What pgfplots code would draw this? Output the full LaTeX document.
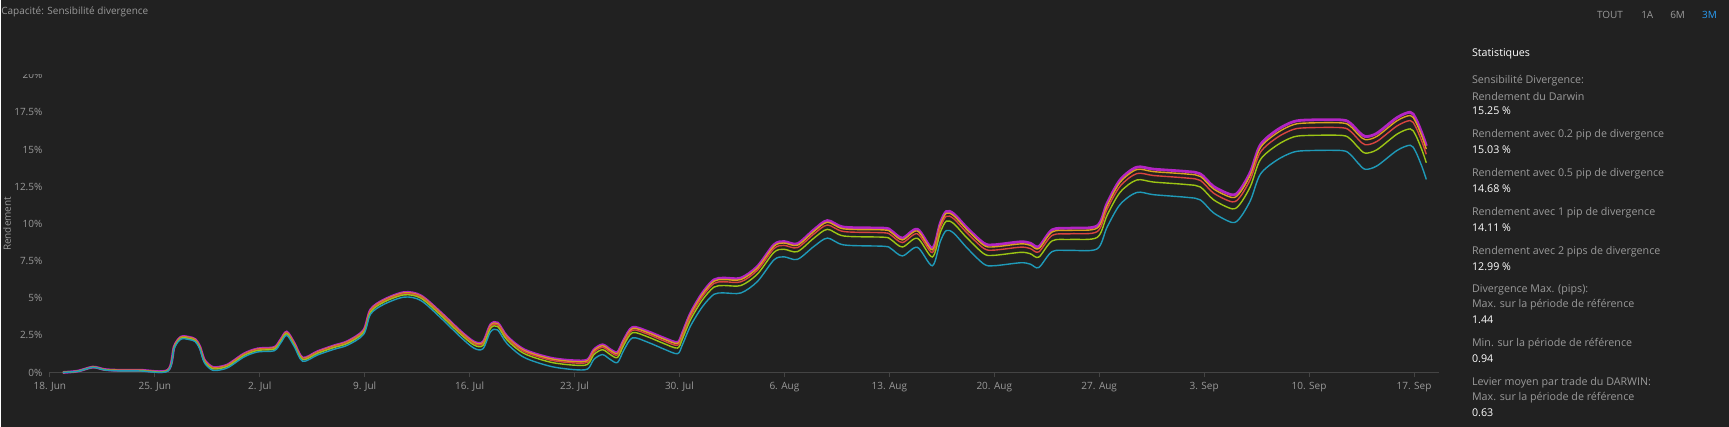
\documentclass[border=0pt]{standalone}
\usepackage{fontspec}
\setmainfont{Open Sans}
\usepackage{pgfplots}
\usepackage{pgfplotstable}
\pgfplotsset{compat=1.18}

\definecolor{bg}{HTML}{212121}
\definecolor{txt}{HTML}{9A9A9A}
\definecolor{axl}{HTML}{444444}
\definecolor{cdarwin}{HTML}{B324C4}
\definecolor{cpip02}{HTML}{D9A21F}
\definecolor{cpip05}{HTML}{D9443F}
\definecolor{cpip1}{HTML}{9CC414}
\definecolor{cpip2}{HTML}{1F9AB8}
\definecolor{blueact}{HTML}{2A9DF4}

% day  darwin  0.2pip  0.5pip  1pip  2pips
\pgfplotstableread{
d M O R G C
0.87 0.00 0.00 0.00 0.00 0.00
1.87 0.09 0.09 0.09 0.08 0.08
2.87 0.36 0.36 0.35 0.35 0.34
3.64 0.20 0.20 0.19 0.18 0.17
4.5 0.15 0.15 0.14 0.13 0.11
6.0 0.15 0.15 0.14 0.12 0.10
7.87 0.15 0.14 0.13 0.12 0.09
8.3 1.75 1.74 1.72 1.69 1.63
8.75 2.38 2.37 2.34 2.31 2.24
9.3 2.36 2.35 2.32 2.28 2.21
9.7 2.22 2.21 2.18 2.14 2.07
10.0 1.75 1.73 1.71 1.67 1.59
10.3 0.85 0.83 0.80 0.76 0.67
10.75 0.40 0.38 0.35 0.30 0.20
11.1 0.33 0.31 0.28 0.23 0.13
11.87 0.52 0.50 0.47 0.42 0.32
12.97 1.26 1.24 1.21 1.15 1.05
13.87 1.59 1.57 1.54 1.48 1.38
14.97 1.68 1.66 1.62 1.57 1.46
15.4 2.20 2.18 2.14 2.09 1.98
15.8 2.72 2.70 2.66 2.61 2.50
16.3 1.97 1.95 1.91 1.86 1.75
16.87 0.97 0.95 0.91 0.86 0.75
17.87 1.41 1.39 1.35 1.29 1.18
18.97 1.80 1.78 1.74 1.68 1.56
19.87 2.09 2.07 2.03 1.96 1.84
20.93 2.83 2.80 2.76 2.69 2.56
21.4 4.22 4.19 4.15 4.07 3.93
22.3 4.89 4.86 4.81 4.74 4.59
23.64 5.38 5.35 5.30 5.22 5.07
24.75 5.16 5.13 5.08 5.00 4.84
26.1 4.00 3.97 3.91 3.82 3.65
27.4 2.76 2.72 2.66 2.57 2.38
28.3 2.05 2.01 1.94 1.84 1.63
28.9 2.05 2.01 1.94 1.82 1.60
29.4 3.20 3.16 3.08 2.97 2.74
29.87 3.33 3.28 3.21 3.09 2.86
30.5 2.42 2.37 2.30 2.18 1.94
31.64 1.53 1.48 1.40 1.27 1.01
33.4 0.97 0.92 0.83 0.69 0.41
34.97 0.79 0.73 0.64 0.49 0.19
35.87 0.85 0.79 0.69 0.54 0.23
36.3 1.53 1.47 1.37 1.21 0.89
36.87 1.86 1.80 1.69 1.53 1.20
37.4 1.53 1.47 1.36 1.19 0.86
37.87 1.35 1.28 1.18 1.01 0.67
38.3 2.20 2.13 2.03 1.86 1.52
38.87 3.03 2.96 2.85 2.68 2.33
39.87 2.76 2.69 2.58 2.40 2.04
40.97 2.31 2.24 2.12 1.94 1.57
41.87 2.02 1.95 1.83 1.64 1.26
42.2 2.65 2.57 2.45 2.26 1.87
42.75 4.00 3.92 3.79 3.57 3.15
43.53 5.34 5.25 5.11 4.88 4.42
44.3 6.23 6.14 5.99 5.74 5.26
44.97 6.35 6.25 6.10 5.85 5.35
46.1 6.35 6.25 6.10 5.85 5.35
47.2 7.13 7.03 6.88 6.62 6.12
48.3 8.59 8.49 8.33 8.08 7.57
48.97 8.81 8.71 8.55 8.29 7.78
49.87 8.66 8.56 8.40 8.13 7.61
50.97 9.60 9.49 9.32 9.04 8.48
51.87 10.22 10.11 9.92 9.63 9.04
52.97 9.78 9.66 9.48 9.18 8.58
55.64 9.71 9.59 9.40 9.10 8.49
56.1 9.56 9.44 9.25 8.95 8.34
56.87 9.04 8.92 8.74 8.44 7.84
57.87 9.64 9.52 9.33 9.03 8.42
58.87 8.37 8.25 8.07 7.77 7.18
59.4 10.05 9.93 9.74 9.42 8.81
59.8 10.83 10.71 10.51 10.18 9.55
60.3 10.67 10.54 10.34 10.01 9.37
61.2 9.71 9.58 9.37 9.03 8.36
62.3 8.70 8.56 8.35 7.99 7.30
62.97 8.59 8.45 8.23 7.88 7.18
64.75 8.79 8.65 8.43 8.08 7.38
65.4 8.70 8.56 8.34 7.99 7.29
65.97 8.47 8.33 8.11 7.76 7.06
66.87 9.60 9.46 9.23 8.86 8.14
68.1 9.71 9.56 9.33 8.95 8.21
69.87 9.87 9.72 9.48 9.09 8.32
70.53 11.39 11.23 10.99 10.58 9.79
71.4 12.96 12.80 12.54 12.13 11.31
72.5 13.81 13.65 13.38 12.95 12.11
73.64 13.68 13.51 13.25 12.81 11.96
75.87 13.52 13.35 13.08 12.64 11.78
76.75 13.36 13.19 12.92 12.48 11.61
77.64 12.51 12.34 12.06 11.61 10.73
78.87 11.95 11.77 11.48 11.01 10.09
79.4 12.29 12.11 11.82 11.34 10.41
80.1 13.52 13.33 13.04 12.55 11.60
80.75 15.31 15.12 14.81 14.32 13.34
81.87 16.32 16.12 15.81 15.30 14.30
82.97 16.88 16.68 16.36 15.85 14.83
84.0 16.99 16.79 16.47 15.95 14.93
86.2 16.99 16.79 16.47 15.95 14.93
86.75 16.77 16.57 16.24 15.71 14.67
87.3 16.21 16.00 15.67 15.12 14.05
87.75 15.87 15.66 15.32 14.76 13.67
88.53 16.10 15.89 15.55 14.99 13.90
89.87 17.15 16.94 16.59 16.04 14.94
90.75 17.51 17.29 16.95 16.39 15.29
91.1 17.11 16.89 16.55 15.99 14.88
91.53 16.10 15.88 15.53 14.97 13.85
91.82 15.25 15.03 14.68 14.11 12.99
}\divdata

\begin{document}
\begin{tikzpicture}[x=1pt,y=1pt]
\fill[bg] (0,0) rectangle (1729,427);

\begin{axis}[
    at={(48.7pt,54.3pt)}, anchor=south west,
    scale only axis,
    width=1390.6pt, height=297.4pt,
    xmin=0, xmax=92.7, ymin=0, ymax=20,
    axis lines*=left,
    y axis line style={draw=none},
    x axis line style={draw=axl, line width=1pt},
    xtick={0,7,...,91},
    xticklabels={18. Jun,25. Jun,2. Jul,9. Jul,16. Jul,23. Jul,30. Jul,6. Aug,13. Aug,20. Aug,27. Aug,3. Sep,10. Sep,17. Sep},
    ytick={0,2.5,...,20},
    yticklabels={0\%,2.5\%,5\%,7.5\%,10\%,12.5\%,15\%,17.5\%,20\%},
    tick align=outside,
    major tick length=5pt,
    x tick style={draw=axl, line width=0.8pt},
    y tick style={draw=none},
    ticklabel style={font=\fontsize{10}{12}\selectfont, text=txt},
    xticklabel style={yshift=-1pt},
    yticklabel style={xshift=1pt},
    /pgf/number format/assume math mode=true,
    clip=false,
]
\addplot[cdarwin, line width=2.8pt, smooth, tension=0.5] table[x=d, y=M] {\divdata};
\addplot[cpip02, line width=1.4pt, smooth, tension=0.5] table[x=d, y=O] {\divdata};
\addplot[cpip05, line width=1.4pt, smooth, tension=0.5] table[x=d, y=R] {\divdata};
\addplot[cpip1, line width=1.4pt, smooth, tension=0.5] table[x=d, y=G] {\divdata};
\addplot[cpip2, line width=1.4pt, smooth, tension=0.5] table[x=d, y=C] {\divdata};
\end{axis}

% the top label is half hidden in the original
\fill[bg] (8,427-74.5) rectangle (48,427-62);

% title and y label
\node[anchor=west, inner sep=0pt, text=txt, font=\fontsize{10}{12}\selectfont] at (0,414.7) {Capacité: Sensibilité divergence};
\node[rotate=90, text=txt, font=\fontsize{10}{12}\selectfont] at (6,203) {Rendement};

% range buttons
\begin{scope}[every node/.style={anchor=west, inner sep=0pt}, font=\fontsize{10}{12}\selectfont]
\node[text=txt] at (1596.7,412) {TOUT};
\node[text=txt] at (1641,412) {1A};
\node[text=txt] at (1670,412) {6M};
\node[text=blueact] at (1702,412) {3M};
\end{scope}

% statistics panel
\begin{scope}[every node/.style={anchor=west, inner sep=0pt, font=\fontsize{10.7}{12}\selectfont}]
\node[text=white] at (1471.7,427-54.3) {Statistiques};
\node[text=txt] at (1471.7,427-81) {Sensibilité Divergence:};
\node[text=txt] at (1471.7,427-96.3) {Rendement du Darwin};
\node[text=white] at (1471.7,427-110.3) {15.25 \%};
\node[text=txt] at (1471.7,427-135) {Rendement avec 0.2 pip de divergence};
\node[text=white] at (1471.7,427-149.7) {15.03 \%};
\node[text=txt] at (1471.7,427-174) {Rendement avec 0.5 pip de divergence};
\node[text=white] at (1471.7,427-189) {14.68 \%};
\node[text=txt] at (1471.7,427-213) {Rendement avec 1 pip de divergence};
\node[text=white] at (1471.7,427-228.3) {14.11 \%};
\node[text=txt] at (1471.7,427-252) {Rendement avec 2 pips de divergence};
\node[text=white] at (1471.7,427-267) {12.99 \%};
\node[text=txt] at (1471.7,427-290) {Divergence Max. (pips):};
\node[text=txt] at (1471.7,427-304.7) {Max. sur la période de référence};
\node[text=white] at (1471.7,427-320) {1.44};
\node[text=txt] at (1471.7,427-343.7) {Min. sur la période de référence};
\node[text=white] at (1471.7,427-359) {0.94};
\node[text=txt] at (1471.7,427-383.3) {Levier moyen par trade du DARWIN:};
\node[text=txt] at (1471.7,427-397.7) {Max. sur la période de référence};
\node[text=white] at (1471.7,427-412.7) {0.63};
\end{scope}
\end{tikzpicture}
\end{document}
